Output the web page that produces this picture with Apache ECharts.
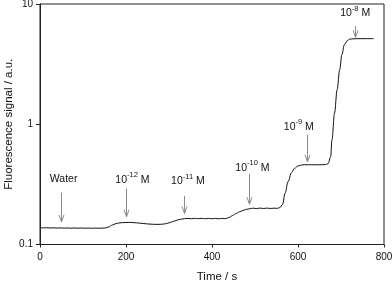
<!DOCTYPE html>
<html>
<head>
<meta charset="utf-8">
<script src="https://cdn.jsdelivr.net/npm/echarts@6/dist/echarts.min.js"></script>
<style>html,body{margin:0;padding:0;background:#fff}#c{width:392px;height:282px}</style>
</head>
<body>
<div id="c"></div>
<script>
// ---- data ----
const times = [0,8,16,24,32,40,48,56,64,72,80,88,96,104,112,120,128,136,144,152,160,168,176,184,192,200,208,216,224,232,240,248,256,264,272,280,288,296,304,312,320,328,336,344,352,360,368,376,384,392,400,408,416,424,432,440,448,456,464,472,480,488,496,504,512,520,528,536,544,552,558,564,570,577,585,592,600,608,616,624,632,640,648,656,664,670,676,679,685,691,697,702,708,714,720,730,747,760,776];
const signal = [0.138,0.1375,0.1378,0.1372,0.1376,0.137,0.1374,0.1368,0.1373,0.1367,0.1372,0.1366,0.1371,0.1366,0.137,0.1365,0.1369,0.1365,0.1368,0.1372,0.14,0.145,0.149,0.151,0.152,0.1525,0.1527,0.1522,0.1515,0.1505,0.1495,0.1485,0.1478,0.1472,0.147,0.1472,0.148,0.15,0.153,0.1565,0.16,0.1625,0.164,0.1648,0.1638,0.165,0.1638,0.165,0.1637,0.1649,0.1636,0.1648,0.1636,0.1648,0.164,0.168,0.174,0.181,0.187,0.192,0.196,0.1985,0.2005,0.199,0.2008,0.1992,0.2008,0.1993,0.2005,0.1998,0.203,0.215,0.267,0.334,0.397,0.43,0.45,0.458,0.461,0.46,0.4605,0.46,0.46,0.4605,0.462,0.47,0.539,0.743,1.24,1.94,2.84,3.79,4.6,4.95,5.1,5.14,5.15,5.15,5.15];

const xTicks = [0, 200, 400, 600, 800];
const yTicks = [0.1, 1, 10];

const annotBase = ['Water', '10', '10', '10', '10', '10'];
const annotExp  = ['', '-12', '-11', '-10', '-9', '-8'];
const annotUnit = ['', ' M', ' M', ' M', ' M', ' M'];
const arrowTimes = [48, 199, 334, 487, 621, 733];
const arrowTop   = [0.270, 0.292, 0.254, 0.387, 0.818, 6.53];
const arrowTip   = [0.154, 0.170, 0.181, 0.216, 0.487, 5.29];
const labelTimes = [55, 215, 344, 494, 602, 733];
const labelValues= [0.312, 0.31, 0.302, 0.39, 0.86, 7.5];

const seriesData = times.map((t, i) => [t, signal[i]]);
const annotData = arrowTimes.map((t, i) => [t, arrowTip[i]]);

const chart = echarts.init(document.getElementById('c'), null, {renderer: 'canvas'});
const FONT = 'Liberation Sans, Arial, sans-serif';
chart.setOption({
  animation: false,
  backgroundColor: '#fff',
  grid: {left: 40, right: 8, top: 4, bottom: 37.5, containLabel: false, outerBoundsMode: 'none',
    show: true, borderColor: '#222', borderWidth: 1, backgroundColor: 'transparent'},
  xAxis: {
    type: 'value', min: xTicks[0], max: xTicks[xTicks.length - 1], interval: 200,
    name: 'Time / s', nameLocation: 'middle', nameGap: 26, nameMoveOverlap: false,
    nameTextStyle: {fontFamily: FONT, fontSize: 11.5, color: '#111', padding: [0, 0, 0, 10]},
    axisLine: {show: true, lineStyle: {color: '#222', width: 1}},
    axisTick: {show: true, inside: false, length: 3, lineStyle: {color: '#222'}},
    axisLabel: {fontFamily: FONT, fontSize: 10, color: '#111', margin: 8},
    splitLine: {show: false}
  },
  yAxis: {
    type: 'log', logBase: 10, min: yTicks[0], max: yTicks[yTicks.length - 1],
    name: 'Fluorescence signal / a.u.', nameLocation: 'middle', nameGap: 25, nameMoveOverlap: false,
    nameTextStyle: {fontFamily: FONT, fontSize: 11.5, color: '#111'},
    axisLine: {show: true, lineStyle: {color: '#222', width: 1}},
    axisTick: {show: true, inside: false, length: 4, lineStyle: {color: '#222'}},
    axisLabel: {fontFamily: FONT, fontSize: 10, color: '#111', margin: 7,
      formatter: v => String(+(+v).toPrecision(3))},
    minorTick: {show: false},
    splitLine: {show: false}
  },
  series: [
    {
      type: 'line', data: seriesData, showSymbol: false, smooth: 0.35, smoothMonotone: 'x',
      lineStyle: {color: '#111', width: 1}, z: 3
    },
    {
      type: 'custom', data: annotData, z: 4,
      renderItem: function (params, api) {
        const i = params.dataIndex;
        const top = api.coord([arrowTimes[i], arrowTop[i]]);
        const tip = api.coord([arrowTimes[i], arrowTip[i]]);
        const lab = api.coord([labelTimes[i], labelValues[i]]);
        const x = Math.round(tip[0]) + 0.5;
        let txt;
        if (annotExp[i]) txt = '{n|' + annotBase[i] + '}{s|' + annotExp[i] + '}{n|' + annotUnit[i] + '}';
        else txt = '{n|' + annotBase[i] + '}';
        return {
          type: 'group',
          children: [
            {type: 'line', shape: {x1: x, y1: top[1], x2: x, y2: tip[1]}, style: {stroke: '#8a8a8a', lineWidth: 1}},
            {type: 'polyline', shape: {points: [[x - 2.5, tip[1] - 7], [x, tip[1]], [x + 2.5, tip[1] - 7]]}, style: {stroke: '#8a8a8a', lineWidth: 1, fill: null}},
            {type: 'text', x: lab[0], y: lab[1], style: {
              text: txt, align: 'center', verticalAlign: 'bottom',
              rich: {
                n: {fontFamily: FONT, fontSize: 10.5, fill: '#111', verticalAlign: 'bottom', lineHeight: 14},
                s: {fontFamily: FONT, fontSize: 7.5, fill: '#111', verticalAlign: 'top', lineHeight: 8}
              }
            }}
          ]
        };
      }
    }
  ]
});
</script>
</body>
</html>
